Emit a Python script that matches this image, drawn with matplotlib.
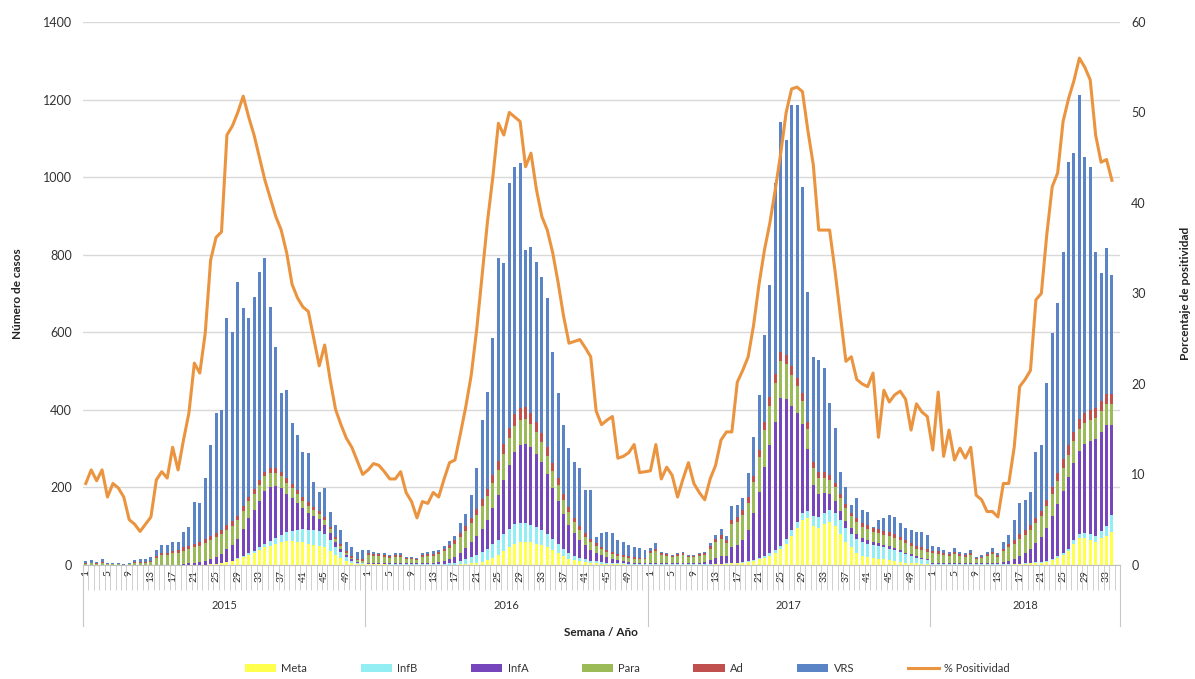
import numpy as np
import matplotlib.pyplot as plt
from matplotlib.transforms import blended_transform_factory
from matplotlib.patches import Patch
from matplotlib.lines import Line2D

plt.rcParams['font.family'] = ['Lato', 'DejaVu Sans']
nan = np.nan

years = ['2015', '2016', '2017', '2018']
weeks_per_year = [52, 52, 52, 35]

# casos por semana (2015 | 2016 | 2017 | 2018)
meta = ([0, 0, 0, 0, 0, 0, 0, 0, 0, 0, 0, 0, 0, 0, 0, 0, 0, 0, 0, 0, 0, 0, 1, 2, 3, 5, 8, 10, 15, 20,
         25, 30, 38, 45, 50, 55, 60, 62, 62, 60, 58, 55, 52, 50, 45, 35, 25, 18, 10, 5, 3, 2]
        + [2, 2, 2, 2, 1, 1, 1, 1, 1, 1, 1, 1, 1, 1, 1, 1, 1, 2, 3, 4, 6, 8, 12, 18, 25, 35, 45, 55, 58, 60,
           58, 55, 52, 45, 38, 30, 22, 16, 12, 9, 7, 5, 4, 3, 3, 2, 2, 2, 1, 1, 1, 1]
        + [1, 1, 1, 1, 1, 1, 1, 1, 1, 1, 1, 1, 2, 2, 3, 4, 5, 6, 8, 10, 14, 18, 24, 30, 40, 55, 75, 95, 115, 120,
           100, 95, 105, 110, 100, 80, 60, 45, 32, 24, 20, 18, 16, 14, 12, 10, 8, 6, 5, 4, 3, 2]
        + [1, 1, 1, 1, 1, 1, 1, 1, 1, 1, 1, 1, 1, 1, 1, 2, 2, 3, 4, 5, 6, 8, 12, 18, 25, 35, 55, 70, 70, 65,
           60, 70, 75, 85, nan])
infb = ([0, 0, 0, 0, 0, 0, 0, 0, 0, 0, 0, 0, 0, 0, 0, 0, 0, 0, 0, 0, 0, 0, 0, 0, 0, 0, 0, 1, 2, 3,
         5, 6, 8, 10, 12, 14, 18, 22, 26, 30, 34, 36, 38, 38, 35, 30, 22, 15, 10, 6, 3, 2]
        + [1, 1, 1, 1, 1, 1, 1, 1, 1, 1, 1, 1, 1, 1, 2, 3, 5, 8, 12, 16, 20, 25, 30, 35, 40, 45, 48, 50, 50, 48,
           45, 42, 38, 34, 30, 25, 20, 16, 12, 10, 8, 6, 5, 4, 3, 3, 2, 2, 2, 1, 1, 1]
        + [1, 1, 1, 1, 1, 1, 1, 1, 1, 1, 1, 1, 1, 1, 1, 1, 1, 2, 2, 3, 4, 5, 6, 8, 10, 12, 14, 16, 18, 20,
           25, 28, 30, 32, 34, 36, 36, 36, 36, 36, 35, 34, 33, 32, 30, 28, 25, 22, 18, 15, 12, 10]
        + [1, 1, 1, 1, 1, 1, 1, 1, 1, 1, 1, 1, 1, 1, 1, 1, 1, 1, 2, 2, 2, 3, 3, 4, 5, 6, 8, 10, 12, 14,
           15, 18, 25, 45, nan])
infa = ([0, 0, 0, 0, 0, 0, 0, 0, 0, 0, 0, 0, 0, 0, 0, 0, 0, 1, 2, 4, 6, 8, 10, 14, 18, 24, 32, 40, 50, 70,
         90, 105, 120, 135, 140, 135, 120, 100, 85, 70, 54, 44, 36, 30, 24, 18, 12, 8, 5, 3, 2, 2]
        + [2, 2, 2, 2, 2, 2, 2, 2, 2, 2, 3, 3, 4, 5, 7, 10, 14, 20, 28, 38, 48, 60, 75, 95, 115, 140, 165, 185, 200, 205,
           200, 190, 175, 155, 130, 110, 90, 72, 58, 46, 36, 28, 22, 18, 14, 10, 8, 6, 5, 4, 3, 3]
        + [3, 4, 3, 3, 3, 3, 3, 3, 3, 4, 5, 10, 15, 20, 18, 40, 45, 55, 80, 120, 170, 230, 280, 330, 380, 360, 320, 280, 230, 160,
           80, 60, 50, 40, 30, 22, 18, 14, 12, 10, 9, 8, 7, 6, 6, 5, 5, 4, 4, 3, 3, 3]
        + [3, 3, 3, 3, 3, 3, 3, 3, 2, 2, 3, 3, 3, 5, 8, 12, 20, 28, 35, 50, 65, 85, 110, 135, 160, 185, 200, 215, 230, 240,
           250, 255, 260, 230, nan])
para = ([3, 4, 3, 5, 2, 2, 2, 1, 2, 5, 6, 6, 8, 18, 25, 26, 30, 30, 35, 38, 40, 42, 45, 48, 50, 50, 50, 50, 48, 46,
         44, 42, 40, 38, 36, 34, 30, 28, 25, 22, 20, 18, 16, 14, 12, 10, 8, 7, 6, 5, 5, 5]
        + [20, 18, 17, 16, 14, 16, 16, 11, 11, 9, 16, 18, 18, 20, 25, 30, 35, 42, 45, 50, 55, 58, 60, 62, 64, 66, 68, 68, 66, 64,
           60, 56, 52, 48, 44, 40, 36, 32, 28, 25, 22, 20, 18, 16, 14, 13, 12, 11, 10, 10, 9, 9]
        + [25, 30, 20, 18, 15, 18, 20, 15, 15, 18, 18, 30, 40, 45, 35, 60, 60, 65, 70, 80, 90, 95, 100, 100, 95, 90, 80, 70, 60, 50,
           45, 42, 40, 38, 36, 34, 32, 30, 30, 28, 28, 26, 26, 26, 26, 26, 25, 24, 22, 20, 20, 18]
        + [25, 24, 20, 18, 22, 18, 16, 20, 11, 13, 17, 22, 16, 28, 35, 40, 45, 45, 48, 50, 52, 55, 58, 60, 60, 58, 56, 55, 55, 55,
           55, 55, 55, 55, nan])
ad = ([1, 1, 1, 2, 1, 1, 1, 0, 1, 2, 2, 2, 3, 5, 6, 6, 7, 7, 8, 8, 9, 9, 10, 10, 11, 11, 12, 12, 12, 12,
       12, 12, 12, 12, 12, 12, 11, 11, 10, 10, 9, 9, 8, 8, 7, 6, 5, 5, 4, 3, 3, 3]
      + [5, 5, 5, 5, 4, 5, 5, 3, 3, 3, 5, 5, 5, 6, 7, 8, 9, 10, 12, 14, 16, 18, 20, 22, 24, 26, 28, 30, 30, 30,
         28, 26, 24, 22, 20, 18, 16, 14, 12, 10, 9, 8, 7, 6, 5, 5, 4, 4, 4, 4, 3, 3]
      + [5, 6, 5, 5, 4, 5, 5, 4, 4, 5, 5, 7, 8, 9, 8, 12, 12, 13, 14, 16, 18, 20, 22, 24, 25, 25, 24, 22, 20, 18,
         16, 15, 14, 13, 12, 11, 10, 10, 10, 10, 10, 10, 10, 10, 10, 10, 9, 9, 8, 8, 7, 7]
      + [6, 6, 5, 5, 6, 5, 5, 5, 3, 4, 5, 6, 5, 7, 8, 10, 12, 12, 13, 14, 15, 16, 18, 20, 22, 24, 25, 25, 25, 25,
         25, 25, 25, 25, nan])
vrs = ([6, 7, 4, 8, 2, 3, 2, 2, 2, 5, 7, 7, 9, 16, 21, 20, 23, 22, 40, 48, 107, 101, 158, 235, 310, 310, 535, 488, 603, 511,
        461, 496, 537, 551, 415, 312, 204, 228, 158, 143, 116, 127, 64, 48, 75, 38, 31, 37, 24, 23, 18, 24]
       + [9, 6, 5, 4, 4, 5, 5, 3, 3, 2, 4, 6, 6, 5, 8, 10, 11, 25, 31, 58, 104, 204, 249, 353, 523, 466, 630, 638, 632, 405,
          429, 412, 401, 384, 287, 220, 177, 152, 143, 149, 111, 126, 16, 35, 46, 49, 36, 35, 30, 27, 27, 21]
       + [9, 15, 4, 3, 2, 3, 4, 2, 2, 2, 4, 8, 11, 15, 9, 35, 32, 32, 63, 101, 142, 225, 290, 493, 592, 553, 673, 703, 532, 336,
          270, 288, 269, 185, 141, 57, 45, 20, 53, 34, 35, 2, 24, 33, 45, 45, 36, 30, 33, 35, 40, 37]
       + [14, 11, 9, 6, 11, 6, 5, 9, 3, 5, 7, 11, 5, 17, 24, 51, 80, 79, 86, 170, 169, 302, 397, 438, 535, 731, 718, 836, 660, 627,
          402, 330, 377, 308, nan])
positividad = ([9, 10.5, 9.3, 10.5, 7.5, 9, 8.5, 7.5, 5, 4.5, 3.7, 4.5, 5.3, 9.4, 10.3, 9.6, 13, 10.5, 13.8, 16.8,
                22.3, 21.2, 25.6, 33.7, 36.2, 36.8, 47.5, 48.5, 50, 51.8, 49.5, 47.5, 45, 42.5, 40.5, 38.5, 37, 34.5, 31, 29.5,
                28.5, 28, 25, 22, 24.3, 20.5, 17.2, 15.5, 14, 13, 11.5, 10]
               + [10.5, 11.2, 11, 10.3, 9.5, 9.5, 10.3, 8, 7, 5.2, 7, 6.8, 8, 7.5, 9.5, 11.3, 11.6, 14.5, 17.5, 21,
                  26, 32, 38, 43, 48.8, 47.5, 50, 49.5, 49, 44, 45.5, 41.5, 38.5, 37, 34.5, 31.2, 27.5, 24.5, 24.7, 24.9,
                  24, 23, 17, 15.5, 16, 16.4, 11.8, 12, 12.4, 13.3, 10.2, 10.3]
               + [10.4, 13.3, 9.5, 10.8, 9.9, 7.5, 9.5, 11.3, 9, 8, 7.2, 9.5, 11, 13.8, 14.7, 14.7, 20.2, 21.5, 23, 26.5,
                  31, 34.8, 37.8, 41.5, 45.5, 50, 52.6, 52.8, 52.3, 48, 44.2, 37, 37, 37, 32.5, 27.5, 22.5, 23, 20.5, 20,
                  19.7, 21.2, 14.1, 19.3, 18, 18.8, 19.2, 18.3, 14.9, 17.8, 16.9, 16.4]
               + [12.7, 19.1, 12, 14.9, 11.6, 12.9, 11.8, 13, 7.7, 7.2, 5.9, 5.9, 5.3, 9, 9, 13, 19.7, 20.5, 21.5, 29.3,
                  30, 36.5, 41.8, 43.3, 49, 51.5, 53.5, 56, 55, 53.6, 47.5, 44.5, 44.8, 42.5, nan])

series = [('Meta', meta, '#FFFF4D'), ('InfB', infb, '#93EEF3'), ('InfA', infa, '#7646BC'),
          ('Para', para, '#9BBB59'), ('Ad', ad, '#C0504D'), ('VRS', vrs, '#5A84C6')]
line_color = '#EB9440'

week_num = np.concatenate([np.arange(1, n + 1) for n in weeks_per_year])
n = len(week_num)
x = np.arange(n)

fig = plt.figure(figsize=(11.95, 6.79), dpi=100)
ax = fig.add_axes([0.0695, 0.168, 0.8678, 0.7997])

bottom = np.zeros(n)
for name, vals, col in series:
    v = np.array(vals, dtype=float)
    ax.bar(x, v, 0.55, bottom=bottom, color=col, linewidth=0, zorder=2)
    bottom = bottom + np.nan_to_num(v)

ax.set_xlim(-0.5, n - 0.5)
ax.set_ylim(0, 1400)
ax.set_yticks(range(0, 1401, 200))
ax.yaxis.grid(True, color='#d9d9d9', linewidth=1)
ax.set_axisbelow(True)
for s in ['left', 'right', 'top']:
    ax.spines[s].set_visible(False)
ax.spines['bottom'].set_color('#bfbfbf')
ax.tick_params(axis='y', length=0, labelsize=9, labelcolor='#333333', pad=8)

# eje x de dos niveles: semana / año
major = x[(week_num - 1) % 4 == 0]
ax.set_xticks(major)
ax.set_xticklabels([str(w) for w in week_num[major]], rotation=90, fontsize=7.5, color='#2a2a2a')
ax.set_xticks(np.arange(-0.5, n), minor=True)
ax.tick_params(axis='x', which='major', length=0, pad=4)
ax.tick_params(axis='x', which='minor', length=18, width=0.6, color='#c8c8c8')

tr = blended_transform_factory(ax.transData, ax.transAxes)
edges = np.concatenate([[0], np.cumsum(weeks_per_year)]) - 0.5
for e in edges:
    ax.plot([e, e], [0, -0.112], transform=tr, clip_on=False, color='#c8c8c8', lw=0.8)
for i, y in enumerate(years):
    ax.text((edges[i] + edges[i + 1]) / 2, -0.074, y, transform=tr, ha='center', va='center',
            fontsize=8, color='#333333')

ax2 = ax.twinx()
ax2.plot(x, positividad, color=line_color, lw=2.2, zorder=3)
ax2.set_ylim(0, 60)
ax2.set_yticks(range(0, 61, 10))
for s in ax2.spines.values():
    s.set_visible(False)
ax2.tick_params(axis='y', length=0, labelsize=9, labelcolor='#333333', pad=8)

fig.text(0.015, 0.568, 'Número de casos', rotation=90, ha='center', va='center',
         fontsize=8.5, fontweight='bold', color='#222222')
fig.text(0.992, 0.568, 'Porcentaje de positividad', rotation=90, ha='center', va='center',
         fontsize=8.5, fontweight='bold', color='#222222')
fig.text(0.503, 0.069, 'Semana / Año', ha='center', va='center',
         fontsize=8.5, fontweight='bold', color='#222222')

handles = [Patch(facecolor=c, edgecolor='none') for _, _, c in series]
handles.append(Line2D([0], [0], color=line_color, lw=2.2))
labels = [s[0] for s in series] + ['% Positividad']
fig.legend(handles, labels, loc='center', bbox_to_anchor=(0.525, 0.016), ncol=7, frameon=False,
           fontsize=8, handlelength=2.8, handleheight=0.7, columnspacing=4.8, handletextpad=0.5,
           labelcolor='#333333')

fig.savefig('out.png', dpi=100)
